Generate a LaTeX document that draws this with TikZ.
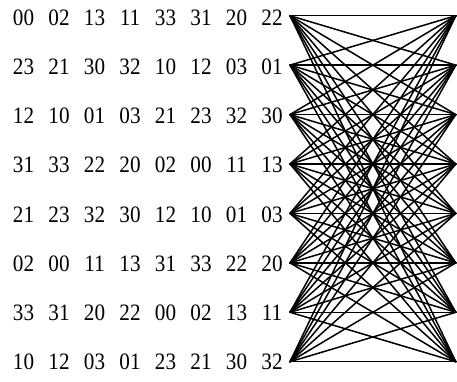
\documentclass[tikz,border=0pt]{standalone}
\usepackage{fontspec}
\setmainfont{Liberation Serif}[FakeStretch=0.9]
\begin{document}
\begin{tikzpicture}[x=1pt,y=-1pt,
  lab/.style={anchor=base,inner sep=0pt,font=\fontsize{23.5}{23.5}\selectfont},
  edge/.style={line width=1.5pt,line cap=round}]
\useasboundingbox (0,0) rectangle (457,381);
\foreach \i/\t in {1/{00,02,13,11,33,31,20,22},2/{23,21,30,32,10,12,03,01},3/{12,10,01,03,21,23,32,30},4/{31,33,22,20,02,00,11,13},5/{21,23,32,30,12,10,01,03},6/{02,00,11,13,31,33,22,20},7/{33,31,20,22,00,02,13,11},8/{10,12,03,01,23,21,30,32}}{
  \pgfmathsetmacro{\yy}{15.7+(\i-1)*49.43}
  \pgfmathsetmacro{\yb}{25.7+(\i-1)*49.09}
  \coordinate (L\i) at (290,\yy);
  \coordinate (R\i) at (455.8,\yy);
  \foreach \p [count=\k] in \t {
    \node[lab] (T\i-\k) at ({23.5+(\k-1)*35.5},\yb) {\p};
  }
}
\foreach \i in {1,...,8}{
  \foreach \j in {1,...,8}{
    \draw[edge] (L\i) -- (R\j);
  }
}
\end{tikzpicture}
\end{document}
